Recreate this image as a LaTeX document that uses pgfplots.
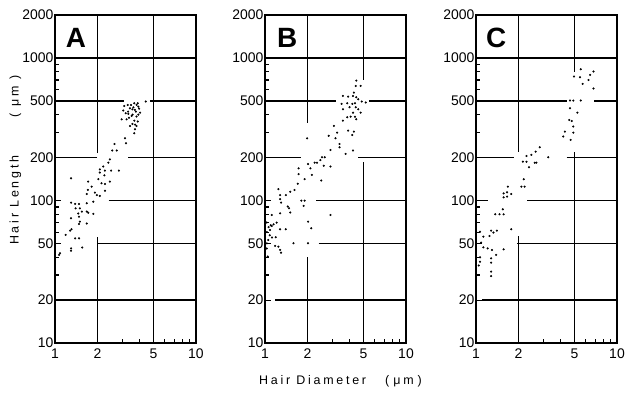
\documentclass[border=0pt]{standalone}
\usepackage{pgfplots}
\pgfplotsset{compat=1.18}
\usepackage{fontspec}
\setmainfont{Liberation Sans}
\newfontfamily\lblfont[LetterSpace=22]{Liberation Sans}
\newcommand{\hseg}[3]{\addplot[black, line width=1.5bp, no marks, forget plot] coordinates {(#1,#3)(#2,#3)};}
\newcommand{\vseg}[3]{\addplot[black, line width=1.5bp, no marks, forget plot] coordinates {(#1,#2)(#1,#3)};}

\begin{document}
\begin{tikzpicture}
% ---------------- Panel A ----------------
\begin{axis}[xmode=log, ymode=log, xmin=1, xmax=10, ymin=10, ymax=2000,
    width=141bp, height=328bp, scale only axis,
    xtick={1,2,5,10}, xticklabels={1,2,5,10},
    ytick={10,20,50,100,200,500,1000,2000},
    yticklabels={10,20,50,100,200,500,1000,2000},
    minor xtick={3,4,6,7,8,9},
    minor ytick={30,40,60,70,80,90,300,400,600,700,800,900},
    tick pos=left, tick align=inside,
    major tick length=6bp, minor tick length=4bp,
    tick style={black, line width=1.1bp},
    axis line style={line width=1.6bp},
    ticklabel style={font=\fontsize{14}{16}\selectfont},
    yticklabel style={inner sep=1.5bp},
    xticklabel style={yshift=-2bp},
    anchor=south west, at={(55bp,54bp)}]
\hseg{1}{10}{1000}
\hseg{1}{3.1}{500} \hseg{4.7}{10}{500}
\hseg{1}{1.98}{200} \hseg{3.3}{10}{200}
\hseg{2.4}{10}{100}
\hseg{2}{10}{50}
\hseg{1}{10}{20}
\vseg{2}{215}{2000} \vseg{2}{10}{55}
\vseg{5}{10}{2000}
\addplot[only marks, mark=*, mark size=0.85bp, black] coordinates {
(3.10,460)(3.28,468)(3.46,468)(3.65,481)(3.79,468)(3.86,481)(3.90,455)(3.40,443)
(3.54,436)(3.69,432)(4.01,413)(3.05,427)(3.17,409)(3.31,405)(3.50,392)(3.79,388)
(2.97,371)(3.22,371)(3.65,363)(3.86,358)(3.54,344)(3.79,333)(3.40,333)(3.69,316)
(3.65,296)(3.14,273)(3.19,252)(2.64,249)(2.55,224)(2.74,224)(2.45,194)(2.39,184)
(2.20,173)(2.08,165)(2.26,162)(2.50,162)(2.84,162)(2.08,157)(2.24,150)(2.03,141)
(1.30,143)(4.40,494)
(3.60,450)(3.30,420)(3.75,420)(3.95,440)(3.55,400)(3.35,380)(3.70,340)(3.90,400)
(2.14,132)(2.26,130.5)(2.45,135.6)(1.72,135.6)(1.82,125)(1.71,118.5)(1.68,111)
(1.92,113.5)(1.98,109)(2.08,107.5)(2.26,117)(1.30,96.5)(1.39,94.5)(1.48,94.5)
(1.68,95.5)(1.87,98)(1.40,88)(1.50,88)(1.55,83.5)(1.46,81)(1.68,83.5)(1.72,82)
(1.87,80.5)(1.30,75)(1.48,77)(1.50,71)(1.48,68.4)(1.68,69)(1.31,62.8)(1.28,61.4)
(1.19,57.3)(1.39,54.2)(1.48,54.2)(1.56,46.7)(1.30,46.1)(1.30,44.4)(1.085,42.6)
(1.07,41.5)
};
\node[anchor=base west, inner sep=0pt, font=\fontsize{28}{30}\selectfont\bfseries] at (rel axis cs:0.075,0.9) {A};
\end{axis}
% ---------------- Panel B ----------------
\begin{axis}[xmode=log, ymode=log, xmin=1, xmax=10, ymin=10, ymax=2000,
    width=141bp, height=328bp, scale only axis,
    xtick={1,2,5,10}, xticklabels={1,2,5,10},
    ytick={10,20,50,100,200,500,1000,2000},
    yticklabels={10,20,50,100,200,500,1000,2000},
    minor xtick={3,4,6,7,8,9},
    minor ytick={30,40,60,70,80,90,300,400,600,700,800,900},
    tick pos=left, tick align=inside,
    major tick length=6bp, minor tick length=4bp,
    tick style={black, line width=1.1bp},
    axis line style={line width=1.6bp},
    ticklabel style={font=\fontsize{14}{16}\selectfont},
    yticklabel style={inner sep=1.5bp},
    xticklabel style={yshift=-2bp},
    anchor=south west, at={(265bp,54bp)}]
\hseg{1}{10}{1000}
\hseg{1}{3.2}{500} \hseg{5.5}{10}{500}
\hseg{1}{1.8}{200} \hseg{4.6}{10}{200}
\hseg{2.3}{10}{100}
\hseg{2.4}{10}{50}
\hseg{1.18}{10}{20}
\vseg{2}{350}{2000} \vseg{2}{10}{40}
\vseg{5}{700}{2000} \vseg{5}{10}{185}
\addplot[only marks, mark=*, mark size=0.85bp, black] coordinates {
(4.44,693)(4.40,636)(4.77,636)(4.27,571)(3.57,541)(3.89,535)(4.21,541)(4.44,530)
(4.59,513)(4.85,494)(5.18,486)(3.49,476)(3.83,481)(4.16,476)(4.35,481)(3.98,451)
(3.57,436)(4.40,451)(4.59,436)(4.21,413)(4.77,413)(3.83,383)(4.05,387)(4.35,387)
(4.44,371)(3.57,363)(3.08,333)(3.25,299)(3.89,309)(4.27,304)(4.16,288)(2.83,284)
(3.16,273)(1.99,273)(3.38,249)(3.38,236)(2.91,226)(4.21,224)(3.73,212)(2.54,201)
(2.65,201)(2.47,192)(2.25,184)(2.34,184)(2.02,180)(2.61,175)(1.73,168)(2.10,168)
(2.91,173)
(1.73,153)(2.15,151)(1.91,141)(2.51,138)(1.71,131)(1.62,118.5)(1.245,120)(1.51,115)
(1.405,109)(1.28,109)(1.28,102)(1.30,96.6)(1.81,99.7)(1.91,99.7)(1.88,91.5)
(1.45,90.6)(1.48,88.1)(1.51,82.2)(1.28,81.3)(2.91,79.1)(1.116,79.1)(1.21,69.9)
(2.02,71)(1.116,66.2)(1.28,62.8)(2.13,63.8)(1.405,62.8)(1.086,62.1)(1.19,55.2)
(1.056,52.8)(1.59,50.1)(2.02,50.1)(1.245,47.4)(1.28,45)(1.30,43)(1.045,40.4)
(1.03,70)(1.06,65)(1.10,67)(1.15,68)(1.03,60)(1.08,57)(1.12,55)(1.03,50)(1.18,48)
(1.03,46)
};
\node[anchor=base west, inner sep=0pt, font=\fontsize{28}{30}\selectfont\bfseries] at (rel axis cs:0.085,0.9) {B};
\end{axis}
% ---------------- Panel C ----------------
\begin{axis}[xmode=log, ymode=log, xmin=1, xmax=10, ymin=10, ymax=2000,
    width=141bp, height=328bp, scale only axis,
    xtick={1,2,5,10}, xticklabels={1,2,5,10},
    ytick={10,20,50,100,200,500,1000,2000},
    yticklabels={10,20,50,100,200,500,1000,2000},
    minor xtick={3,4,6,7,8,9},
    minor ytick={30,40,60,70,80,90,300,400,600,700,800,900},
    tick pos=left, tick align=inside,
    major tick length=6bp, minor tick length=4bp,
    tick style={black, line width=1.1bp},
    axis line style={line width=1.6bp},
    ticklabel style={font=\fontsize{14}{16}\selectfont},
    yticklabel style={inner sep=1.5bp},
    xticklabel style={yshift=-2bp},
    anchor=south west, at={(476bp,54bp)}]
\hseg{1}{10}{1000}
\hseg{1}{4.4}{500} \hseg{6.9}{10}{500}
\hseg{1}{1.85}{200} \hseg{4.4}{10}{200}
\hseg{1}{1.22}{100} \hseg{2.3}{10}{100}
\hseg{1.95}{10}{50}
\hseg{1.1}{10}{20}
\vseg{2}{220}{2000} \vseg{2}{10}{56}
\vseg{5}{800}{2000} \vseg{5}{10}{220}
\addplot[only marks, mark=*, mark size=0.85bp, black] coordinates {
(5.53,832)(6.81,802)(6.45,760)(4.96,740)(5.47,732)(6.28,701)(5.71,657)(6.81,610)
(4.64,502)(4.90,502)(5.53,502)(4.64,444)(5.24,413)(4.59,367)(4.77,361)(4.90,330)
(4.27,304)(4.90,299)(4.16,281)(4.69,266)(2.83,236)(2.65,220)(2.47,209)(2.28,205)
(3.25,201)(2.15,187)(2.28,187)(2.61,184)(2.68,184)(2.38,171)
(2.18,141)(2.10,125)(2.21,125)(1.68,125)(1.57,112)(1.66,114)(1.78,111)(1.57,105.2)
(1.66,106.4)(1.55,86.7)(1.37,80)(1.47,80)(1.57,80)(1.78,62.8)(1.28,61.4)(1.33,59.5)
(1.405,61.4)(1.245,56.3)(1.068,60.4)(1.128,55.7)(1.086,50.6)(1.128,46.9)(1.21,46.1)
(1.30,44.9)(1.57,45.4)(1.39,41.5)(1.28,39.3)(1.068,39.9)(1.068,37.2)(1.28,36.6)
(1.28,31.7)(1.28,29.5)(1.045,35)
};
\node[anchor=base west, inner sep=0pt, font=\fontsize{28}{30}\selectfont\bfseries] at (rel axis cs:0.07,0.9) {C};
\end{axis}
% ---------------- Labels ----------------
\node[anchor=base west, inner sep=0pt, font=\lblfont\fontsize{12.5}{14}\selectfont] at (259bp,13bp) {Hair Diameter};
\node[anchor=base west, inner sep=0pt, font=\lblfont\fontsize{12.5}{14}\selectfont] at (385bp,13bp) {(\hspace{4bp}μm\hspace{4bp})};
\node[rotate=90, anchor=base west, inner sep=0pt, font=\lblfont\fontsize{12.5}{14}\selectfont] at (18.5bp,152bp) {Hair Length};
\node[rotate=90, anchor=base west, inner sep=0pt, font=\lblfont\fontsize{12.5}{14}\selectfont] at (18.5bp,279bp) {(\hspace{7bp}μm\hspace{7bp})};
\pgfresetboundingbox
\path[use as bounding box] (0,0) rectangle (626bp,397bp);
\end{tikzpicture}
\end{document}
